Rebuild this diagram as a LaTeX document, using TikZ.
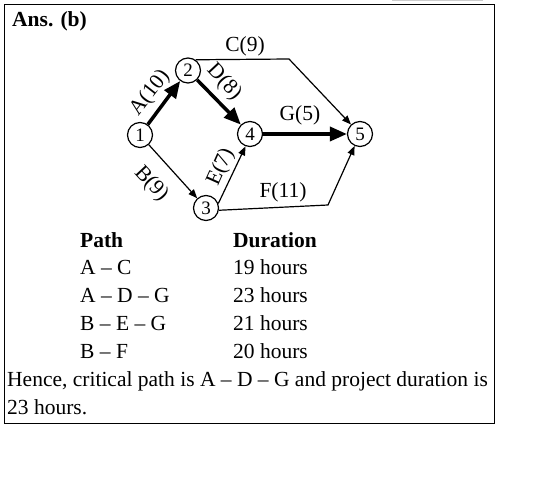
\documentclass[tikz,border=0pt]{standalone}
\usepackage{fontspec}
\setmainfont{Liberation Serif}
\usetikzlibrary{arrows.meta}
\tikzset{
  event/.style={circle, draw, line width=1.2pt, minimum size=25pt, inner sep=0pt,
    font=\fontsize{19}{19}\selectfont},
  crit/.style={line width=3.5pt, -{Triangle[length=17pt,width=14pt]}},
  act/.style={line width=1.2pt, -{Triangle[length=9pt,width=7pt]}},
  lbl/.style={inner sep=0pt},
  txt/.style={anchor=base west, inner sep=0pt}
}
\begin{document}
\begin{tikzpicture}[x=1pt,y=-1pt,font=\fontsize{21.5}{26}\selectfont]
  \useasboundingbox (0,0) rectangle (542,481);
  \draw[black!20, line width=2pt] (392,0) -- (483,0);
  \draw[line width=1pt] (4.5,4.5) rectangle (494,424);
  \node[txt] (ans) at (12,27) {\textbf{Ans. (b)}};
  % network
  \node[event] (n1) at (140,135) {1};
  \node[event] (n2) at (188,70.5) {2};
  \node[event] (n3) at (206,208) {3};
  \node[event] (n4) at (250,134) {4};
  \node[event] (n5) at (360,134) {5};
  \coordinate (c9) at (289,59);
  \coordinate (f11) at (328,205);
  \draw[crit] (n1) -- (n2);
  \draw[crit] (n2) -- (n4);
  \draw[crit] (n4) -- (n5);
  \draw[act] (n1) -- (n3);
  \draw[act] (n3.20) -- (n4.-110);
  \draw[act] (n2.55) -- (c9) -- (n5);
  \draw[act] (n3.-10) -- (f11) -- (n5);
  \node[lbl] (lA) at (150,93) [rotate=52] {A(10)};
  \node[lbl] (lD) at (224,82) [rotate=-47] {D(8)};
  \node[lbl] (lB) at (151,184) [rotate=-47] {B(9)};
  \node[lbl] (lE) at (221,167) [rotate=66] {E(7)};
  \node[lbl] (lC) at (245,46) {C(9)};
  \node[lbl] (lG) at (300,115) {G(5)};
  \node[lbl] (lF) at (283,192) {F(11)};
  % paths
  \node[txt] (ph) at (80,248) {\textbf{Path}};
  \node[txt] (dh) at (233,248) {\textbf{Duration}};
  \foreach \p/\d [count=\i] in {A – C/19, A – D – G/23, B – E – G/21, B – F/20} {
    \node[txt] (p\i) at (80,247+28*\i) {\p};
    \node[txt] (d\i) at (233,247+28*\i) {\d\ hours};
  }
  \node[txt] (hence) at (7,387) {Hence, critical path is A – D – G and project duration is};
  \node[txt] (hours) at (7,415) {23 hours.};
\end{tikzpicture}
\end{document}
